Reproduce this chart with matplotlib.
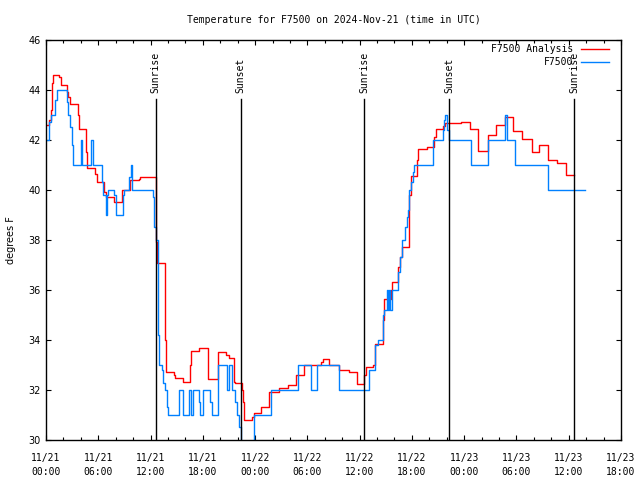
import numpy as np
import pandas as pd
import matplotlib
matplotlib.use('Agg')
import matplotlib.pyplot as plt
import matplotlib.dates as mdates

base = pd.Timestamp('2024-11-21 00:00')

# hours since 11/21 00:00 UTC, degrees F (step changes)
analysis_hours = [0.08, 0.40, 0.63, 0.72, 0.80, 1.49, 1.72, 2.38, 2.53, 2.75,
                  3.64, 3.79, 4.59, 4.67, 5.57, 5.82, 6.66, 6.89, 7.86, 8.67,
                  8.78, 9.64, 10.62, 10.79, 12.59, 12.66, 12.78, 13.64, 13.75, 14.69,
                  14.81, 15.67, 16.53, 16.70, 17.56, 18.54, 19.69, 19.78, 20.66, 20.98,
                  21.56, 21.75, 22.50, 22.65, 22.76, 23.65, 23.93, 24.68, 25.65, 26.69,
                  27.72, 28.75, 29.67, 31.62, 31.80, 32.54, 33.63, 34.78, 35.64, 36.50,
                  36.73, 37.53, 37.71, 38.65, 38.82, 39.60, 39.75, 40.46, 40.69, 40.83,
                  41.61, 41.72, 41.90, 42.59, 42.73, 43.68, 44.54, 44.77, 45.57, 45.80,
                  47.64, 48.67, 49.59, 50.68, 51.65, 52.74, 53.60, 54.69, 55.84, 56.59,
                  57.62, 58.71, 59.69, 60.64]
analysis_temp = [42.6, 42.8, 43.2, 44.3, 44.6, 44.5, 44.2, 43.9, 43.7, 43.45,
                 43.0, 42.45, 41.5, 40.87, 40.65, 40.3, 39.9, 39.7, 39.5, 39.7,
                 40.0, 40.4, 40.45, 40.5, 39.6, 37.9, 37.07, 34.0, 32.7, 32.6,
                 32.47, 32.33, 33.0, 33.55, 33.67, 32.45, 33.0, 33.5, 33.4, 33.3,
                 32.33, 32.3, 32.0, 31.5, 30.8, 30.9, 31.07, 31.33, 31.92, 32.07,
                 32.2, 32.6, 33.0, 33.1, 33.25, 33.0, 32.8, 32.7, 32.24, 32.6,
                 32.9, 33.0, 33.84, 34.8, 35.63, 36.0, 36.3, 36.9, 37.3, 37.72,
                 38.5, 39.8, 40.56, 41.2, 41.63, 41.73, 42.1, 42.43, 42.55, 42.67,
                 42.7, 42.44, 41.56, 42.2, 42.6, 42.9, 42.37, 42.04, 41.5, 41.8,
                 41.2, 41.07, 40.6, 40.6]

obs_hours = [0.08, 0.29, 0.52, 1.09, 1.26, 2.41, 2.58, 2.81, 2.98, 3.10,
             3.96, 4.17, 5.11, 5.34, 6.43, 6.54, 6.83, 7.00, 7.17, 7.86,
             7.98, 8.84, 9.01, 9.47, 9.70, 9.87, 12.32, 12.43, 12.63, 12.80,
             12.89, 13.00, 13.26, 13.46, 13.66, 13.85, 14.04, 15.21, 15.73, 16.42,
             16.68, 16.87, 17.56, 17.73, 18.02, 18.82, 19.05, 19.74, 20.74, 21.01,
             21.38, 21.69, 21.92, 22.21, 22.38, 23.91, 25.83, 28.98, 30.42, 31.11,
             33.63, 37.08, 37.76, 38.11, 38.63, 38.80, 39.14, 39.26, 39.37, 39.54,
             39.75, 40.44, 40.63, 40.83, 41.21, 41.38, 41.50, 41.61, 41.72, 41.86,
             42.09, 42.27, 44.46, 45.57, 45.68, 45.83, 46.03, 46.20, 48.73, 50.71,
             52.72, 52.97, 53.83, 57.62, 61.87]
obs_temp = [42.0, 42.7, 43.0, 43.6, 44.0, 43.5, 43.0, 42.5, 41.8, 41.0,
            42.0, 41.0, 42.0, 41.0, 40.3, 39.8, 39.0, 39.8, 40.0, 39.8,
            39.0, 39.8, 40.0, 40.5, 41.0, 40.0, 39.7, 38.5, 38.0, 36.8,
            34.2, 33.0, 32.8, 32.3, 32.0, 31.3, 31.0, 32.0, 31.0, 32.0,
            31.0, 32.0, 31.5, 31.0, 32.0, 31.5, 31.0, 33.0, 32.0, 33.0,
            32.0, 31.5, 31.0, 30.5, 29.0, 31.0, 32.0, 33.0, 32.0, 33.0,
            32.0, 32.8, 33.8, 34.0, 35.0, 35.2, 36.0, 35.2, 36.0, 35.2,
            36.0, 36.7, 37.3, 38.0, 38.5, 38.9, 39.2, 39.6, 40.0, 40.3,
            40.7, 41.0, 42.0, 42.4, 42.8, 43.0, 42.4, 42.0, 41.0, 42.0,
            43.0, 42.0, 41.0, 40.0, 40.0]

sun_labels = ['Sunrise', 'Sunset', 'Sunrise', 'Sunset', 'Sunrise']
sun_times = ['2024-11-21 12:35', '2024-11-21 22:21', '2024-11-22 12:32',
             '2024-11-22 22:18', '2024-11-23 12:38']

mono = 'DejaVu Sans Mono'

fig = plt.figure(figsize=(6.4, 4.8), dpi=100)
ax = fig.add_axes([46/640, 40/480, 575/640, 400/480])

ta = base + pd.to_timedelta(analysis_hours, unit='h')
to = base + pd.to_timedelta(obs_hours, unit='h')
ax.plot(ta, analysis_temp, color='#ff0000', lw=1.0, drawstyle='steps-post', label='F7500 Analysis')
ax.plot(to, obs_temp, color='#0080ff', lw=1.0, drawstyle='steps-post', label='F7500')

for lab, t in zip(sun_labels, sun_times):
    t = pd.Timestamp(t)
    ax.axvline(t, ymin=0, ymax=0.8525, color='black', lw=1.0)
    ax.text(t, 0.8675, lab, transform=ax.get_xaxis_transform(), rotation=90,
            ha='center', va='bottom', fontsize=7, family=mono)

ax.set_xlim(base, base + pd.Timedelta(hours=66))
ax.set_ylim(30, 46)
ax.set_yticks(np.arange(30, 47, 2))
ax.xaxis.set_major_locator(mdates.HourLocator(byhour=[0, 6, 12, 18]))
ax.xaxis.set_minor_locator(mdates.HourLocator(byhour=range(0, 24, 2)))
ax.xaxis.set_major_formatter(mdates.DateFormatter('%m/%d\n%H:%M'))

ax.tick_params(which='both', direction='in', top=True, right=True, width=0.8)
ax.tick_params(which='major', length=3.5)
ax.tick_params(which='minor', length=2)
ax.tick_params(axis='x', pad=9)
ax.tick_params(axis='y', pad=4, labelsize=7)
for lbl in ax.get_xticklabels():
    lbl.set_fontfamily(mono)
    lbl.set_fontsize(7)
    lbl.set_linespacing(1.6)
for s in ax.spines.values():
    s.set_linewidth(1.0)

ax.set_ylabel('degrees F', fontsize=7, labelpad=9)
ax.set_title('Temperature for F7500 on 2024-Nov-21 (time in UTC)', fontsize=7, family=mono, pad=12)

leg = ax.legend(loc='upper right', bbox_to_anchor=(0.979, 0.99), markerfirst=False, frameon=False,
                borderaxespad=0, borderpad=0, handlelength=2.9, handletextpad=0.8,
                labelspacing=0.3, prop={'family': mono, 'size': 7})
for t in leg.get_texts():
    t.set_ha('right')

fig.savefig('out.png', dpi=100)
